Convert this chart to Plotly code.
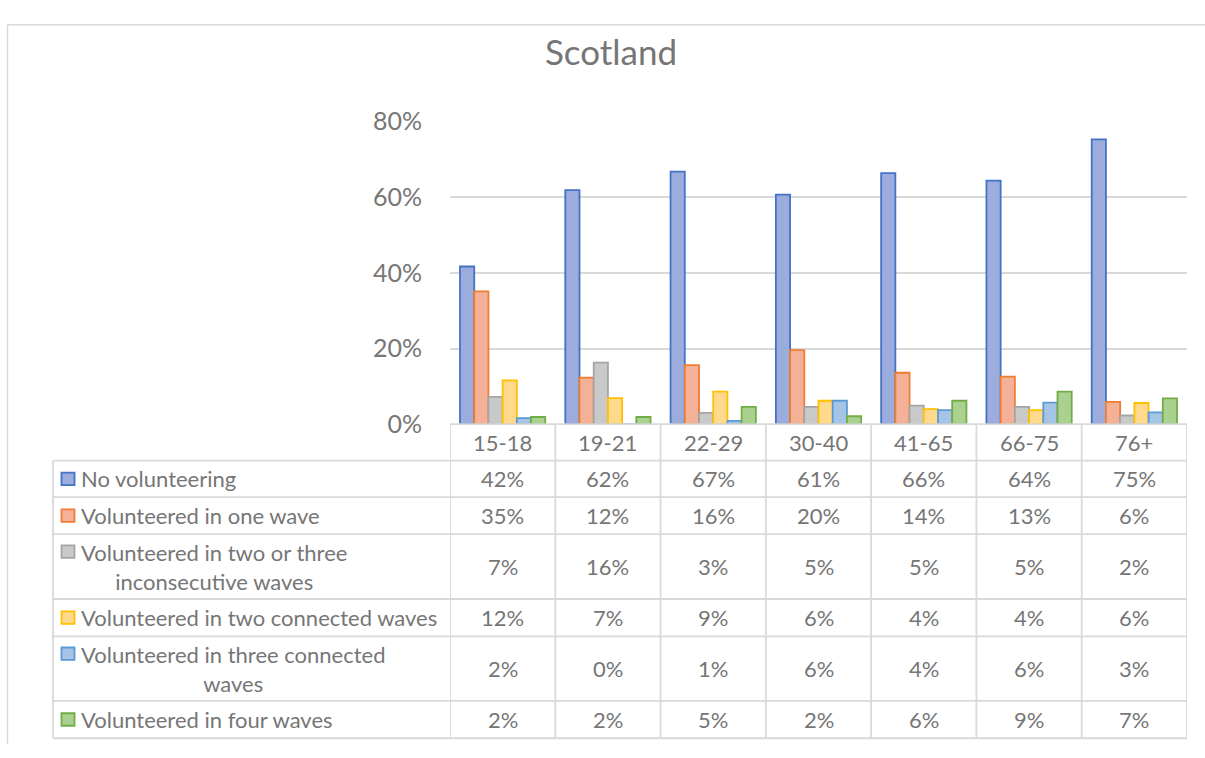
import plotly.graph_objects as go

categories = ["15-18", "19-21", "22-29", "30-40", "41-65", "66-75", "76+"]
series_names = [
    "No volunteering",
    "Volunteered in one wave",
    "Volunteered in two or three<br>inconsecutive waves",
    "Volunteered in two connected waves",
    "Volunteered in three connected<br>waves",
    "Volunteered in four waves",
]
no_volunteering = [41.7, 61.9, 66.8, 60.7, 66.4, 64.4, 75.3]
one_wave = [35.1, 12.3, 15.6, 19.6, 13.6, 12.6, 5.9]
two_three_inconsec = [7.2, 16.3, 3.0, 4.6, 4.9, 4.6, 2.3]
two_connected = [11.6, 6.9, 8.6, 6.2, 4.0, 3.7, 5.6]
three_connected = [1.6, 0.0, 0.9, 6.2, 3.7, 5.7, 3.1]
four_waves = [1.9, 1.9, 4.6, 2.1, 6.2, 8.6, 6.8]
y_ticks = [0, 20, 40, 60, 80]

series_values = [no_volunteering, one_wave, two_three_inconsec,
                 two_connected, three_connected, four_waves]
fills = ["#9BACDD", "#F5B197", "#C9C9C9", "#FFD98C", "#A6C4E6", "#ABD190"]
lines = ["#4472C4", "#ED7D31", "#A5A5A5", "#FFC000", "#5B9BD5", "#70AD47"]

W, H = 1205, 758
FONT = "Lato, 'Open Sans', sans-serif"
TXT = "#767676"
GRID = "#D9D9D9"

def px(x):
    return x / W

def py(y):
    return 1 - y / H

fig = go.Figure()
for name, vals, fc, lc in zip(series_names, series_values, fills, lines):
    fig.add_trace(go.Bar(
        x=categories, y=vals, name=name.replace("<br>", " "),
        marker=dict(color=fc, line=dict(color=lc, width=1.8)),
        hoverinfo="skip",
    ))

plot_left, plot_right = 450, 1187
plot_top, plot_bottom = 110, 425

fig.update_layout(
    width=W, height=H,
    margin=dict(l=0, r=0, t=0, b=0),
    paper_bgcolor="white", plot_bgcolor="white",
    showlegend=False,
    barmode="group", bargap=0.19, bargroupgap=0,
    font=dict(family=FONT, color=TXT),
    xaxis=dict(domain=[px(plot_left), px(plot_right)], range=[-0.5, 6.5],
               showticklabels=False, showgrid=False, zeroline=False, showline=False,
               fixedrange=True),
    yaxis=dict(domain=[py(plot_bottom), py(plot_top)], range=[0, 80],
               tickvals=y_ticks, ticktext=[f"{v}%" for v in y_ticks],
               tickfont=dict(size=25, color=TXT, family=FONT),
               showgrid=True, gridcolor=GRID, gridwidth=1.8,
               zeroline=False, showline=False, ticks="", ticklabelstandoff=27,
               fixedrange=True),
    title=dict(text="Scotland", x=611 / W, xanchor="center", y=py(53), yanchor="middle",
               font=dict(size=35, color=TXT, family=FONT)),
)

shapes = []
LW = 1.8
# outer chart border (left and top edges visible)
shapes.append(dict(type="line", xref="paper", yref="paper",
                   x0=px(7.5), x1=px(7.5), y0=py(9), y1=0,
                   line=dict(color=GRID, width=1.5)))
shapes.append(dict(type="line", xref="paper", yref="paper",
                   x0=px(7.5), x1=1, y0=py(9), y1=py(9),
                   line=dict(color=GRID, width=1.5)))

row_lines = [463, 501, 539.5, 607, 646, 713, 752]
header_top = 425
table_left = 53
shapes.append(dict(type="line", xref="paper", yref="paper",
                   x0=px(plot_left), x1=px(plot_right), y0=py(header_top), y1=py(header_top),
                   line=dict(color=GRID, width=LW)))
for yl in row_lines:
    shapes.append(dict(type="line", xref="paper", yref="paper",
                       x0=px(table_left), x1=px(plot_right), y0=py(yl), y1=py(yl),
                       line=dict(color=GRID, width=LW)))
shapes.append(dict(type="line", xref="paper", yref="paper",
                   x0=px(table_left), x1=px(table_left), y0=py(row_lines[0]), y1=py(row_lines[-1]),
                   line=dict(color=GRID, width=LW)))
for i in range(len(categories) + 1):
    shapes.append(dict(type="line", xref="x", yref="paper",
                       x0=i - 0.5, x1=i - 0.5, y0=py(header_top), y1=py(row_lines[-1]),
                       line=dict(color=GRID, width=LW)))

annotations = []
TF = 22
for c in categories:
    annotations.append(dict(x=c, xref="x", y=py((header_top + row_lines[0]) / 2), yref="paper",
                            text=c, showarrow=False, xanchor="center", yanchor="middle",
                            font=dict(size=TF, color=TXT, family=FONT)))
row_bounds = list(zip(row_lines[:-1], row_lines[1:]))
for (r0, r1), name, vals, fc, lc in zip(row_bounds, series_names, series_values, fills, lines):
    two_line = "<br>" in name
    center = (r0 + r1) / 2
    key_center = center - 15.5 if two_line else center
    shapes.append(dict(type="rect", xref="paper", yref="paper",
                       x0=px(61.5), x1=px(74.5), y0=py(key_center - 6.5), y1=py(key_center + 6.5),
                       fillcolor=fc, line=dict(color=lc, width=1.8)))
    annotations.append(dict(x=px(79), xref="paper", y=py(center), yref="paper",
                            text=name, showarrow=False, xanchor="left", yanchor="middle",
                            align="center", font=dict(size=TF, color=TXT, family=FONT)))
    for c, v in zip(categories, vals):
        annotations.append(dict(x=c, xref="x", y=py(center), yref="paper",
                                text=f"{int(v + 0.5)}%", showarrow=False,
                                xanchor="center", yanchor="middle",
                                font=dict(size=TF, color=TXT, family=FONT)))

fig.update_layout(shapes=shapes, annotations=annotations)
fig.write_html("out.html")
